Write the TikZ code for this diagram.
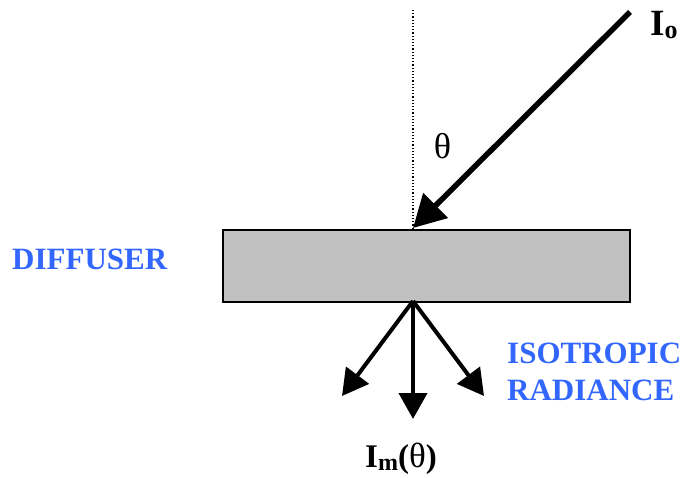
\documentclass[tikz,border=0pt]{standalone}
\usepackage{fontspec}
\setmainfont{Liberation Serif}
\usetikzlibrary{arrows.meta}
\definecolor{lblblue}{RGB}{51,102,255}
\definecolor{diffgray}{RGB}{192,192,192}
\begin{document}
\begin{tikzpicture}[x=1pt,y=-1pt,
  bluelabel/.style={text=lblblue,font=\bfseries\fontsize{31}{37}\selectfont,inner sep=0pt},
  ray/.style={line width=4pt,-{Triangle[length=26pt,width=28pt]}},
  inray/.style={line width=5.5pt,-{Triangle[length=32pt,width=34pt]}},
  blacklabel/.style={font=\bfseries\fontsize{33}{36}\selectfont,inner sep=0pt}
  ]
\useasboundingbox (0,0) rectangle (685,477);
% diffuser plate
\node[draw,line width=2pt,fill=diffgray,minimum width=407pt,minimum height=72pt,
      inner sep=0pt,anchor=north west] (diff) at (222,229) {};
% points
\coordinate (top) at (413,10);
\coordinate (hit) at (413,228);
\coordinate (src) at (630,12);
\coordinate (exit) at (413,301);
\coordinate (outL) at (342,396);
\coordinate (outC) at (413,419);
\coordinate (outR) at (484,396);
% normal
\draw[dotted,line width=1.2pt] (top) -- (hit);
% incoming ray
\draw[inray] (src) -- (hit);
% outgoing rays
\draw[ray] (exit) -- (outL);
\draw[ray] (exit) -- (outC);
\draw[ray] (exit) -- (outR);
% labels
\node[bluelabel,anchor=base west] (dlabel) at (12,269) {DIFFUSER};
\node[bluelabel,anchor=north west,align=left] (iso) at (507,343) {ISOTROPIC\\RADIANCE};
\node[font=\fontsize{36}{40}\selectfont,inner sep=0pt,anchor=base] (theta) at (442.5,158) {θ};
\node[anchor=base west,inner sep=0pt,font=\bfseries\fontsize{37}{40}\selectfont] (io) at (650,35)
  {I\raisebox{-3pt}{\fontsize{26}{28}\selectfont o}};
\node[anchor=base west,blacklabel] (im) at (365,467)
  {I\raisebox{-3pt}{\fontsize{24}{26}\selectfont m}(\textmd{\fontsize{35}{36}\selectfont θ})};
\end{tikzpicture}
\end{document}
